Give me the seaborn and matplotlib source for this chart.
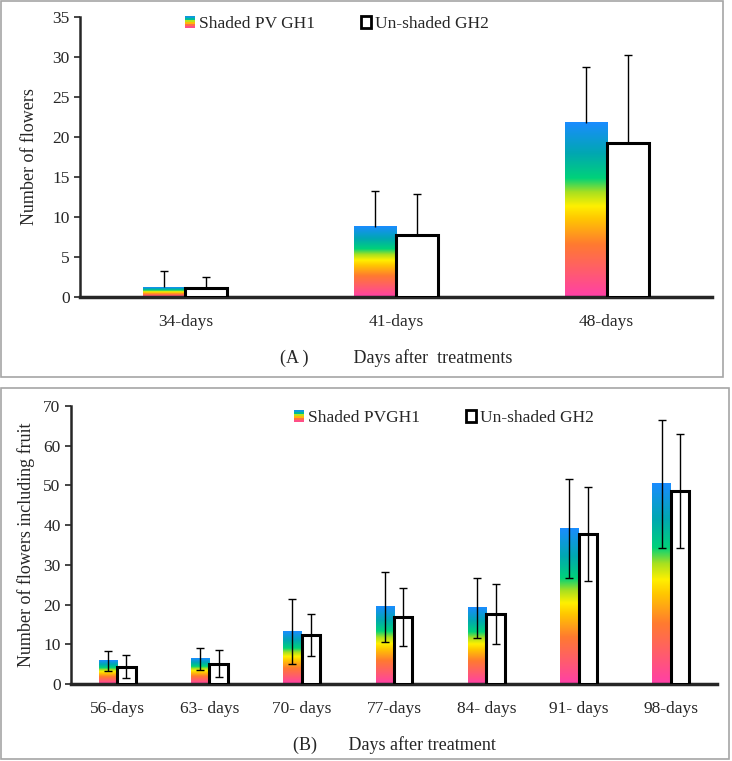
import numpy as np
import pandas as pd
import seaborn as sns
import matplotlib.pyplot as plt
from matplotlib.colors import LinearSegmentedColormap
from matplotlib.patches import Rectangle
from matplotlib.legend_handler import HandlerBase

# panel A data
days_a = ['34-days', '41-days', '48-days']
shaded_a = [1.2, 8.8, 21.8]
shaded_a_err = [2.0, 4.5, 7.0]
unshaded_a = [1.1, 7.7, 19.2]
unshaded_a_err = [1.4, 5.2, 11.1]

# panel B data
days_b = ['56-days', '63- days', '70- days', '77-days', '84- days', '91- days', '98-days']
shaded_b = [5.8, 6.3, 13.2, 19.5, 19.2, 39.2, 50.4]
shaded_b_err = [2.5, 2.7, 8.1, 8.8, 7.6, 12.4, 16.2]
unshaded_b = [4.4, 5.1, 12.4, 16.8, 17.7, 37.8, 48.6]
unshaded_b_err = [2.8, 3.4, 5.3, 7.3, 7.6, 11.8, 14.4]

sns.set_style('ticks')
plt.rcParams['font.family'] = ['Liberation Serif', 'DejaVu Serif']

rainbow = LinearSegmentedColormap.from_list('rb', [
    (0.0, '#ff3fa8'), (0.3, '#ff7a30'), (0.45, '#ffc800'), (0.52, '#fff000'),
    (0.6, '#a8e020'), (0.68, '#00d27a'), (0.82, '#00a8b0'), (1.0, '#1a8cff')])
grad = np.linspace(0, 1, 256).reshape(-1, 1)


class GradHandler(HandlerBase):
    def create_artists(self, legend, orig, x0, y0, w, h, fs, trans):
        n = 6
        arts = []
        for i in range(n):
            r = Rectangle((x0, y0 + h * i / n), w, h / n + 0.3,
                          facecolor=rainbow((i + 0.5) / n), edgecolor='none', transform=trans)
            arts.append(r)
        return arts


def panel(ax, days, s, se, u, ue, two_sided, ymax, ystep, ylabel, xlabel, ypad):
    df = pd.DataFrame({
        'day': days * 2,
        'value': s + u,
        'group': ['Shaded'] * len(days) + ['Unshaded'] * len(days),
    })
    sns.barplot(data=df, x='day', y='value', hue='group', width=0.4,
                palette=['white', 'white'], legend=False, ax=ax, errorbar=None)
    for bar in ax.containers[0]:
        x0, w, h = bar.get_x(), bar.get_width(), bar.get_height()
        bar.set_facecolor('none')
        bar.set_edgecolor('none')
        ax.imshow(grad, extent=[x0, x0 + w, 0, h], origin='lower', aspect='auto',
                  cmap=rainbow, zorder=2)
    for bar in ax.containers[1]:
        bar.set_edgecolor('black')
        bar.set_linewidth(2.2)
        bar.set_zorder(3)
    for cont, vals, errs in [(ax.containers[0], s, se), (ax.containers[1], u, ue)]:
        xs = [b.get_x() + b.get_width() / 2 for b in cont]
        if two_sided:
            yerr = errs
        else:
            yerr = [np.zeros(len(errs)), errs]
        eb = ax.errorbar(xs, vals, yerr=yerr, fmt='none', ecolor='black', elinewidth=1,
                         capsize=3, capthick=1, zorder=4)
        if not two_sided:
            eb[1][0].set_visible(False)
    ax.set_xlim(-0.5, len(days) - 0.5)
    ax.set_ylim(0, ymax)
    ax.set_yticks(np.arange(0, ymax + 1, ystep))
    ax.set_ylabel(ylabel, fontsize=13, labelpad=ypad)
    ax.set_xlabel(xlabel, fontsize=13, labelpad=14)
    ax.tick_params(axis='x', length=0, labelsize=12.5, pad=12)
    ax.tick_params(axis='y', length=4, width=1.2, labelsize=12.5, direction='out')
    ax.spines['left'].set_linewidth(1.8)
    ax.spines['bottom'].set_linewidth(2.5)
    sns.despine(ax=ax)


fig = plt.figure(figsize=(7.32, 7.61), dpi=100)
W, H = 732, 761

# panel frames
fig.patches.append(Rectangle((1 / W, 1 - 377 / H), 722 / W, 376 / H, transform=fig.transFigure,
                             fill=False, edgecolor='#a6a6a6', linewidth=1.2))
fig.patches.append(Rectangle((1 / W, 1 - 759 / H), 728 / W, 371 / H, transform=fig.transFigure,
                             fill=False, edgecolor='#a6a6a6', linewidth=1.2))

ax1 = fig.add_axes([80 / W, 1 - 297 / H, 632 / W, 280 / H])
panel(ax1, days_a, shaded_a, shaded_a_err, unshaded_a, unshaded_a_err, False, 35, 5,
      'Number of flowers', '(A )          Days after  treatments', 10)

ax2 = fig.add_axes([71 / W, 1 - 684 / H, 646 / W, 278 / H])
panel(ax2, days_b, shaded_b, shaded_b_err, unshaded_b, unshaded_b_err, True, 70, 10,
      'Number of flowers including fruit', '(B)       Days after treatment', 6)

h_grad = Rectangle((0, 0), 1, 1)
h_white = Rectangle((0, 0), 1, 1, facecolor='white', edgecolor='black', linewidth=2)
for labels, anchor in [(['Shaded PV GH1', 'Un-shaded GH2'], (337 / W, 1 - 24 / H)),
                       (['Shaded PVGH1', 'Un-shaded GH2'], (444 / W, 1 - 418 / H))]:
    fig.legend([h_grad, h_white], labels, loc='center', bbox_to_anchor=anchor, ncol=2,
               frameon=False, fontsize=12.5, handlelength=0.6, handleheight=0.7,
               handletextpad=0.25, columnspacing=2.6,
               handler_map={h_grad: GradHandler()})

fig.savefig('out.png', dpi=100)
